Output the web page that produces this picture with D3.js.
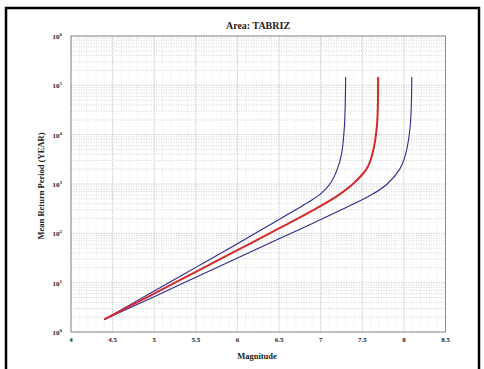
<!DOCTYPE html>
<html>
<head>
<meta charset="utf-8">
<script src="https://cdn.jsdelivr.net/npm/d3@7"></script>
<style>
body { margin: 0; background: white; }
svg text { font-family: "Liberation Serif", "DejaVu Serif", serif; font-weight: bold; fill: #222; }
</style>
</head>
<body>
<script>
// magnitude vs mean return period (years)
const redM = [4.4, 5.0, 5.5, 6.0, 6.5, 6.9, 7.2, 7.4, 7.55, 7.62, 7.675, 7.69];
const redT = [1.8, 6.0, 16.6, 45.7, 126, 288, 575, 1050, 2000, 3980, 14500, 148000];

const upperM = [4.4, 5.0, 5.5, 6.0, 6.5, 6.8, 7.0, 7.12, 7.2, 7.25, 7.285, 7.3];
const upperT = [1.8, 6.8, 20.4, 61.7, 191, 380, 631, 1050, 2000, 3980, 14500, 148000];

const lowerM = [4.4, 5.0, 5.5, 6.0, 6.5, 6.9, 7.3, 7.6, 7.8, 7.95, 8.02, 8.075, 8.095];
const lowerT = [1.8, 5.2, 12.9, 31.6, 77.6, 158, 331, 589, 1000, 2000, 3980, 14500, 148000];

const xTicks = [4, 4.5, 5, 5.5, 6, 6.5, 7, 7.5, 8, 8.5];
const yExp = [0, 1, 2, 3, 4, 5, 6];

const W = 484, H = 369;
const svg = d3.select("body").append("svg").attr("width", W).attr("height", H);

// outer frame
svg.append("path")
   .attr("d", "M6,369 L6,8 L479,8 L479,369")
   .attr("fill", "none").attr("stroke", "black").attr("stroke-width", 2.5);

const margin = {left: 71, top: 36, right: 445.5, bottom: 332};
const x = d3.scaleLinear().domain([4, 8.5]).range([margin.left, margin.right]);
const y = d3.scaleLog().domain([1, 1e6]).range([margin.bottom, margin.top]);

const grid = svg.append("g");
// minor vertical lines
d3.range(4, 8.5001, 0.1).forEach(v => {
  grid.append("line")
      .attr("x1", x(v)).attr("x2", x(v)).attr("y1", margin.top).attr("y2", margin.bottom)
      .attr("stroke", "#d8d8d8").attr("stroke-width", 0.6).attr("stroke-dasharray", "1,2");
});
// minor horizontal (log) lines
for (let e = 0; e < 6; e++) {
  for (let k = 2; k < 10; k++) {
    const v = k * Math.pow(10, e);
    grid.append("line")
        .attr("x1", margin.left).attr("x2", margin.right).attr("y1", y(v)).attr("y2", y(v))
        .attr("stroke", "#bdbdbd").attr("stroke-width", 0.7).attr("stroke-dasharray", "1,1.5");
  }
}
// major grid
xTicks.forEach(v => {
  grid.append("line")
      .attr("x1", x(v)).attr("x2", x(v)).attr("y1", margin.top).attr("y2", margin.bottom)
      .attr("stroke", "#c4c4c4").attr("stroke-width", 0.8).attr("stroke-dasharray", "1.5,1");
});
yExp.forEach(e => {
  grid.append("line")
      .attr("x1", margin.left).attr("x2", margin.right).attr("y1", y(Math.pow(10, e))).attr("y2", y(Math.pow(10, e)))
      .attr("stroke", "#c4c4c4").attr("stroke-width", 0.8).attr("stroke-dasharray", "1.5,1");
});

// plot box
svg.append("rect")
   .attr("x", margin.left).attr("y", margin.top)
   .attr("width", margin.right - margin.left).attr("height", margin.bottom - margin.top)
   .attr("fill", "none").attr("stroke", "#777").attr("stroke-width", 0.8);

// x tick labels
xTicks.forEach(v => {
  svg.append("text").attr("x", x(v)).attr("y", margin.bottom + 10)
     .attr("text-anchor", "middle").attr("font-size", 7).text(v);
});
// y tick labels 10^e
yExp.forEach(e => {
  const t = svg.append("text").attr("x", margin.left - 9).attr("y", y(Math.pow(10, e)) + 3)
     .attr("text-anchor", "end").attr("font-size", 7);
  t.append("tspan").text("10");
  t.append("tspan").attr("dy", -3).attr("font-size", 5).text(e);
});

svg.append("text").attr("x", 258).attr("y", 29).attr("text-anchor", "middle")
   .attr("font-size", 10).text("Area: TABRIZ");
svg.append("text").attr("x", 257).attr("y", 359).attr("text-anchor", "middle")
   .attr("font-size", 8.5).text("Magnitude");
svg.append("text").attr("transform", "translate(44,186) rotate(-90)").attr("text-anchor", "middle")
   .attr("font-size", 8.5).text("Mean Return Period (YEAR)");

const line = d3.line().x(d => x(d[0])).y(d => y(d[1])).curve(d3.curveCatmullRom.alpha(0.5));
const series = [
  {m: upperM, t: upperT, color: "#2b2b8f", w: 1.1},
  {m: lowerM, t: lowerT, color: "#2b2b8f", w: 1.1},
  {m: redM, t: redT, color: "#d42a2a", w: 2}
];
series.forEach(s => {
  svg.append("path")
     .datum(s.m.map((m, i) => [m, s.t[i]]))
     .attr("d", line).attr("fill", "none")
     .attr("stroke", s.color).attr("stroke-width", s.w);
});
</script>
</body>
</html>
